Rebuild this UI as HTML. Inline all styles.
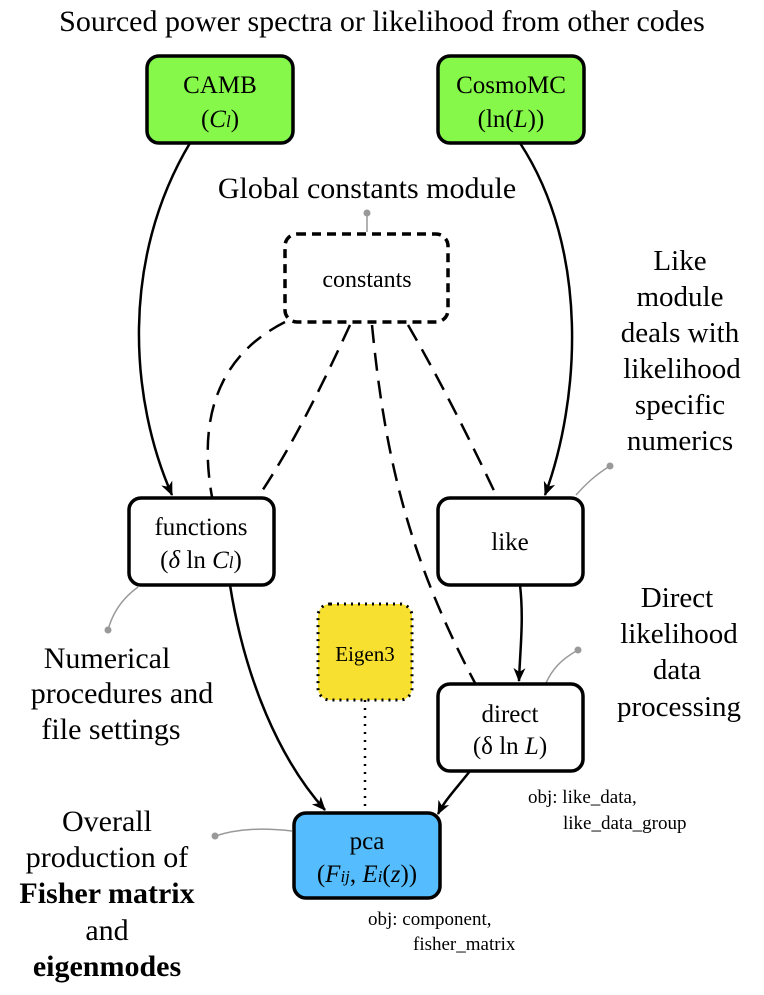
<!DOCTYPE html>
<html><head><style>body{margin:0;background:#fff}svg{display:block}text{font-family:"Liberation Serif",serif;fill:#000}</style></head><body>
<svg width="764" height="995" viewBox="0 0 764 995" xmlns="http://www.w3.org/2000/svg">
<defs><marker id="a" markerWidth="14" markerHeight="14" refX="13" refY="7" orient="auto" markerUnits="userSpaceOnUse"><path d="M0,1 L14,7 L0,13 L4,7z" fill="#000"/></marker></defs>
<text x="382" y="31" font-size="30" text-anchor="middle">Sourced power spectra or likelihood from other codes</text>
<rect x="147" y="56" width="146" height="87" rx="12" fill="#86f84a" stroke="#000" stroke-width="3.5"/>
<text x="220" y="93" font-size="25" text-anchor="middle">CAMB</text>
<text x="220" y="127" font-size="25" text-anchor="middle">(<tspan font-style="italic">C</tspan><tspan font-style="italic" font-size="17">l</tspan>)</text>
<rect x="438" y="56" width="146" height="87" rx="12" fill="#86f84a" stroke="#000" stroke-width="3.5"/>
<text x="511" y="93" font-size="25" text-anchor="middle">CosmoMC</text>
<text x="511" y="127" font-size="25" text-anchor="middle">(ln(<tspan font-style="italic">L</tspan>))</text>
<text x="367" y="198" font-size="30" text-anchor="middle">Global constants module</text>
<line x1="367" y1="213" x2="367" y2="232" stroke="#999" stroke-width="1.5"/><circle cx="367" cy="213" r="3.5" fill="#999"/>
<rect x="285" y="234" width="163" height="88" rx="12" fill="#fff" stroke="#000" stroke-width="3.5" stroke-dasharray="9,6"/>
<text x="367" y="287" font-size="24" text-anchor="middle">constants</text>
<g fill="none" stroke="#000" stroke-width="2.5">
<path d="M190,143 C120,260 130,400 172,495" marker-end="url(#a)"/>
<path d="M520,143 C590,250 580,400 545,495" marker-end="url(#a)"/>
<path d="M230,585 C245,680 280,760 325,810" marker-end="url(#a)"/>
<path d="M520,585 C524,620 520,650 519,681" marker-end="url(#a)"/>
<path d="M470,771 C455,790 445,800 438,814" marker-end="url(#a)"/>
</g>
<g fill="none" stroke="#000" stroke-width="2.5" stroke-dasharray="18,10">
<path d="M285,322 C210,360 200,430 212,497"/>
<path d="M350,325 C320,390 290,450 258,497"/>
<path d="M372,325 C385,460 410,560 475,683"/>
<path d="M408,325 C440,380 470,440 497,497"/>
</g>
<path d="M365,700 L365,812" stroke="#000" stroke-width="2.5" stroke-dasharray="2,6" fill="none"/>
<text x="680" y="270" font-size="29" text-anchor="middle">Like</text>
<text x="680" y="306" font-size="29" text-anchor="middle">module</text>
<text x="680" y="342" font-size="29" text-anchor="middle">deals with</text>
<text x="682" y="378" font-size="29" text-anchor="middle">likelihood</text>
<text x="680" y="414" font-size="29" text-anchor="middle">specific</text>
<text x="680" y="450" font-size="29" text-anchor="middle">numerics</text>
<path d="M610,466 C595,475 585,485 576,495" stroke="#999" stroke-width="1.5" fill="none"/><circle cx="610" cy="466" r="3.5" fill="#999"/>
<rect x="129" y="498" width="145" height="87" rx="12" fill="#fff" stroke="#000" stroke-width="3.5"/>
<text x="201" y="535" font-size="25" text-anchor="middle">functions</text>
<text x="201" y="568" font-size="25" text-anchor="middle">(<tspan font-style="italic">δ</tspan> ln <tspan font-style="italic">C</tspan><tspan font-style="italic" font-size="17">l</tspan>)</text>
<rect x="438" y="498" width="145" height="87" rx="12" fill="#fff" stroke="#000" stroke-width="3.5"/>
<text x="510" y="550" font-size="25" text-anchor="middle">like</text>
<path d="M138,587 C120,600 112,615 108,630" stroke="#999" stroke-width="1.5" fill="none"/><circle cx="108" cy="630" r="3.5" fill="#999"/>
<text x="107" y="668" font-size="30" text-anchor="middle">Numerical</text>
<text x="122" y="703" font-size="30" text-anchor="middle">procedures and</text>
<text x="111" y="739" font-size="30" text-anchor="middle">file settings</text>
<rect x="318" y="604" width="94" height="96" rx="12" fill="#f8e030" stroke="#000" stroke-width="3" stroke-dasharray="2,5"/>
<text x="365" y="661" font-size="21" text-anchor="middle">Eigen3</text>
<text x="677" y="607" font-size="29" text-anchor="middle">Direct</text>
<text x="679" y="643" font-size="29" text-anchor="middle">likelihood</text>
<text x="677" y="679" font-size="29" text-anchor="middle">data</text>
<text x="679" y="716" font-size="29" text-anchor="middle">processing</text>
<path d="M578,650 C560,660 552,670 546,683" stroke="#999" stroke-width="1.5" fill="none"/><circle cx="578" cy="650" r="3.5" fill="#999"/>
<rect x="438" y="684" width="145" height="87" rx="12" fill="#fff" stroke="#000" stroke-width="3.5"/>
<text x="510" y="722" font-size="25" text-anchor="middle">direct</text>
<text x="510" y="754" font-size="25" text-anchor="middle">(δ ln <tspan font-style="italic">L</tspan>)</text>
<text x="528" y="803" font-size="19">obj: like_data,</text>
<text x="563" y="829" font-size="19">like_data_group</text>
<rect x="294" y="813" width="146" height="85" rx="12" fill="#55bdfd" stroke="#000" stroke-width="3.5"/>
<text x="367" y="849" font-size="25" text-anchor="middle">pca</text>
<text x="367" y="882" font-size="25" text-anchor="middle">(<tspan font-style="italic">F</tspan><tspan font-style="italic" font-size="17">ij</tspan>, <tspan font-style="italic">E</tspan><tspan font-style="italic" font-size="17">i</tspan>(<tspan font-style="italic">z</tspan>))</text>
<path d="M215,836 C240,828 265,828 292,831" stroke="#999" stroke-width="1.5" fill="none"/><circle cx="215" cy="836" r="3.5" fill="#999"/>
<text x="107" y="831" font-size="30" text-anchor="middle">Overall</text>
<text x="107" y="867" font-size="30" text-anchor="middle">production of</text>
<text x="107" y="903" font-size="30" text-anchor="middle" font-weight="bold">Fisher matrix</text>
<text x="107" y="940" font-size="30" text-anchor="middle">and</text>
<text x="107" y="976" font-size="30" text-anchor="middle" font-weight="bold">eigenmodes</text>
<text x="368" y="925" font-size="19">obj: component,</text>
<text x="413" y="950" font-size="19">fisher_matrix</text>
</svg>
</body></html>
